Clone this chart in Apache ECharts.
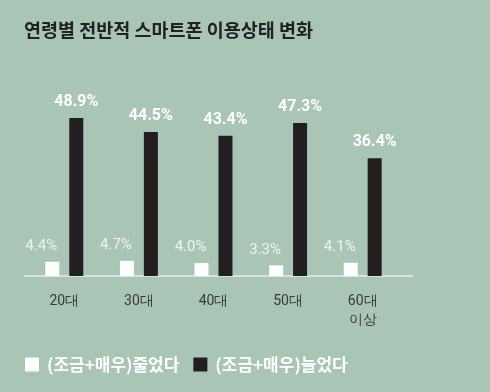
<!DOCTYPE html>
<html><head><meta charset="utf-8">
<script src="https://cdn.jsdelivr.net/npm/echarts@6/dist/echarts.min.js"></script>
<style>html,body{margin:0;padding:0;background:#a8c5b6;}#c{width:490px;height:392px;}</style>
</head><body><div id="c"></div>
<script>
const categories = ['20대', '30대', '40대', '50대', '60대\n이상'];
const decreased = [4.4, 4.7, 4.0, 3.3, 4.1];
const increased = [48.9, 44.5, 43.4, 47.3, 36.4];
const seriesNames = ['(조금+매우)줄었다', '(조금+매우)늘었다'];
const titleText = '연령별 전반적 스마트폰 이용상태 변화';

const chart = echarts.init(document.getElementById('c'));
chart.setOption({
  backgroundColor: '#a8c5b6',
  animation: false,
  title: {
    text: titleText, left: 19, top: 16,
    textStyle: { fontFamily: 'Noto Sans CJK KR', fontSize: 18.5, fontWeight: 'bold', color: '#222222' }
  },
  legend: {
    left: 20, top: 351, itemWidth: 14, itemHeight: 14, itemGap: 14,
    icon: 'rect',
    textStyle: { fontFamily: 'Noto Sans CJK KR', fontSize: 17, fontWeight: 'bold', color: '#ffffff', padding: [0,0,0,3] },
    data: seriesNames
  },
  graphic: [{
    type: 'line', z: 1,
    shape: { x1: 24, y1: 276, x2: 413, y2: 276 },
    style: { stroke: '#e4eee8', lineWidth: 1.5 }
  }],
  grid: { left: 27, right: 90, top: 82, bottom: 116, containLabel: false },
  xAxis: {
    type: 'category', data: categories,
    axisLine: { show: false },
    axisTick: { show: false },
    axisLabel: { fontFamily: 'Roboto', fontSize: 14, color: '#3a3a3a', margin: 16, lineHeight: 19 }
  },
  yAxis: { type: 'value', min: 0, max: 60, show: false, splitLine: { show: false } },
  series: [
    {
      name: seriesNames[0], type: 'bar', data: decreased, barWidth: 14, barGap: '71%',
      itemStyle: { color: '#ffffff' },
      label: { show: true, position: 'top', distance: 8, offset: [-11, 0], formatter: p => p.value.toFixed(1) + '%',
        fontFamily: 'Roboto', fontSize: 15, color: '#eef3ef', fontWeight: 'normal' }
    },
    {
      name: seriesNames[1], type: 'bar', data: increased, barWidth: 14,
      itemStyle: { color: '#231f20' },
      label: { show: true, position: 'top', distance: 8, formatter: p => p.value.toFixed(1) + '%',
        fontFamily: 'Roboto', fontSize: 16, color: '#ffffff', fontWeight: 'bold' }
    }
  ]
});
</script></body></html>
